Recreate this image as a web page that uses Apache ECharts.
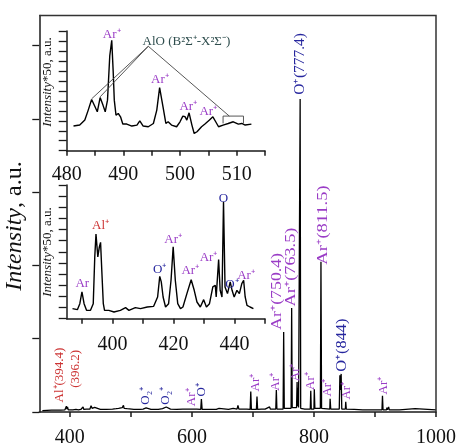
<!DOCTYPE html>
<html><head><meta charset="utf-8">
<script src="https://cdn.jsdelivr.net/npm/echarts@6/dist/echarts.min.js"></script>
<style>html,body{margin:0;padding:0;background:#fff}#c{width:459px;height:448px}</style>
</head><body><div id="c"></div>
<script>
// ---------- DATA ----------
const mainSpectrum = [
 [355,0.02],[370,0.025],[385,0.025],[392,0.03],[394.4,0.08],[395.3,0.04],[396.2,0.07],[397.5,0.03],
 [405,0.03],[410,0.035],[414,0.03],[416.3,0.055],[418,0.035],[421.7,0.068],[423,0.035],[427,0.04],
 [430,0.045],[433,0.04],[434.8,0.085],[436.5,0.05],[438,0.04],[440.7,0.063],[442,0.04],[450,0.035],
 [460,0.035],[470,0.04],[476,0.045],[480,0.05],[481.5,0.068],[483,0.05],[486,0.06],[487.9,0.09],
 [489,0.05],[492,0.04],[494,0.045],[495,0.065],[497,0.045],[505,0.035],[515,0.035],[520,0.04],
 [523,0.05],[525,0.055],[528,0.05],[533,0.035],[545,0.035],[552,0.045],[555,0.06],[558,0.068],
 [561,0.06],[565,0.04],[575,0.035],[585,0.04],[587.5,0.055],[590,0.04],[603,0.04],[606,0.05],
 [608,0.04],[614.5,0.035],[615.6,0.177],[616.8,0.035],[625,0.035],[640,0.035],[644.5,0.05],
 [646,0.035],[660,0.035],[667.7,0.05],[669,0.035],[674,0.04],[675.5,0.09],[677,0.04],[686,0.04],
 [688,0.05],[690,0.04],[695.5,0.035],[696.5,0.28],[697.5,0.035],[705.7,0.035],[706.7,0.21],
 [707.7,0.035],[714,0.04],[714.7,0.06],[715.5,0.04],[720,0.04],[727.3,0.07],[728.5,0.04],
 [737.5,0.04],[738.4,0.3],[739.3,0.04],[749.5,0.04],[750.4,1.09],[751.4,0.05],[762.6,0.05],
 [763.5,1.42],[764.4,0.06],[771.5,0.06],[772.4,0.41],[773.2,0.08],[774,0.33],[774.8,0.06],
 [776.5,0.06],[777.4,4.27],[778.3,0.05],[785,0.04],[794,0.04],[794.8,0.29],[795.6,0.04],
 [800,0.04],[800.6,0.31],[801.5,0.05],[810.5,0.05],[811.5,2.05],[812.5,0.05],[826,0.04],
 [826.5,0.18],[827.5,0.04],[841.5,0.04],[842.5,0.5],[843.5,0.3],[844.6,0.52],[845.6,0.04],
 [851.5,0.04],[852.1,0.14],[853,0.04],[866,0.035],[867,0.05],[868,0.035],[880,0.03],
 [911.5,0.03],[912.3,0.22],[913.2,0.03],[919,0.03],[919.5,0.06],[920.5,0.03],[922.4,0.07],
 [923.5,0.03],[925,0.05],[926,0.03],[940,0.03],[965.8,0.045],[967,0.03],[1000,0.03]
];
const inset1Spectrum = [
 [481.2,2.47],[482.3,2.57],[483.2,3.07],[483.8,4.07],[484.4,5.13],[485,4.4],[485.4,3.9],[485.9,5.33],
 [486.4,4.57],[486.8,3.9],[487.2,5.07],[487.6,9.5],[487.95,11.07],[488.2,8.0],[488.4,5.07],[488.7,3.57],
 [489.1,3.73],[489.5,3.4],[489.9,2.67],[490.6,2.67],[491.5,2.47],[492.4,2.57],[492.9,3.0],[493.5,2.47],
 [494.4,2.4],[495.3,2.73],[495.9,4.07],[496.4,6.33],[496.7,6.47],[497.0,4.4],[497.5,2.73],[497.9,2.9],
 [498.5,2.57],[499.4,2.4],[500,2.9],[500.5,3.47],[500.9,3.4],[501.2,3.07],[501.6,3.8],[502.1,2.57],
 [502.5,1.73],[503.0,1.9],[503.8,2.4],[504.4,2.67],[505.2,3.07],[505.8,3.4],[506.3,2.9],[506.8,2.4],
 [507.6,2.57],[508.5,2.73],[509.4,2.9],[510.3,2.67],[510.9,2.73],[511.5,2.57],[512.6,2.67]
];
const inset2Spectrum = [
 [386.9,0.9],[388.5,0.81],[389.3,1.35],[390.0,2.4],[390.7,1.35],[391.5,0.75],[392.8,0.75],[393.7,1.35],
 [394.2,5.55],[394.6,7.6],[395.2,5.55],[395.7,6.45],[396.1,6.85],[396.5,4.35],[397.0,1.35],[397.4,0.75],
 [398.8,0.75],[400.5,0.6],[402.6,0.75],[404.3,0.99],[405.4,0.75],[407.5,0.99],[409.2,0.9],[411.4,1.05],
 [413.5,1.11],[414.8,1.95],[415.5,3.8],[416.0,3.3],[416.6,1.95],[417.4,1.05],[418.4,1.35],[419.2,3.45],
 [419.9,6.45],[420.6,3.45],[421.4,1.35],[422.3,0.9],[423.1,1.05],[424.4,2.25],[425.8,3.5],[426.8,2.55],
 [427.7,1.5],[428.8,1.05],[429.9,1.71],[430.8,1.05],[431.8,1.35],[432.9,2.85],[433.7,3.0],[434.0,1.95],
 [434.8,5.3],[435.3,2.55],[435.9,1.95],[436.4,10.5],[436.9,2.85],[437.7,2.25],[438.6,3.3],[439.2,2.55],
 [439.9,1.95],[440.8,2.55],[441.6,2.25],[442.4,3.15],[443.0,3.45],[443.5,1.95],[444.1,1.2],[445.1,1.05],
 [446.2,0.9]
];
const mainXTicks = [400,500,600,700,800,900,1000];
const mainXLabels = [400,600,800,1000];
const mainYTicks = [0,1,2,3,4,5];
const inset1XTicks = [480,485,490,495,500,505,510,515];
const inset1XLabels = [480,490,500,510];
const inset2XTicks = [390,400,410,420,430,440,450];
const inset2XLabels = [400,420,440];
const insetYTicks = [0,1,2,3,4,5,6,7,8,9,10,11,12];
// AlO band guide lines and bracket (inset 1, data coords)
const aloGuideA = [[484.4,5.2],[494.4,10.47],[508.7,3.47]];
const aloGuideB = [[485.9,5.4],[494.4,10.47]];
const aloBracket = [[507.6,2.74],[507.6,3.47],[511.2,3.47],[511.2,2.74]];
// main annotations: [text, nm, intensity at text foot]
const mainNotes = [
 ['Al⁺(394.4)',383.7,0.13],['(396.2)',409.8,0.33],
 ['O₂⁺',523.9,0.10],['O₂⁺',557.6,0.10],['Ar⁺',600,0.08],['O⁺',615.6,0.21],
 ['Ar⁺',704.3,0.28],['Ar⁺',737.9,0.29],['Ar⁺(750.4)',739.5,1.12],
 ['Ar⁺(763.5)',763.5,1.44],['Ar⁺',769.5,0.42],['O⁺(777.4)',777.7,4.33],
 ['Ar⁺',794,0.30],['Ar⁺(811.5)',815.6,2.01],['Ar⁺',822,0.21],
 ['O⁺(844)',846.6,0.55],['Ar⁺',853.6,0.17],['Ar⁺',913.5,0.24]
];
// inset annotations: [text, nm, intensity at text centre]
const inset1Notes = [
 ['Ar⁺',487.94,11.67],['Ar⁺',496.46,7.17],['Ar⁺',501.46,4.47],['Ar⁺',504.99,3.97]
];
const inset1Title = ['AlO (B²Σ⁺-X²Σ⁻)',493.4,10.97];
const inset2Notes = [
 ['Ar',390.1,3.15],['Al⁺',396.1,8.4],['O⁺',415.5,4.44],['Ar⁺',419.9,7.14],
 ['Ar⁺',425.5,4.35],['Ar⁺',431.5,5.5],['O',436.4,10.8],['O⁺',439.2,3.09],
 ['Ar⁺',443.8,3.84]
];

// ---------- STYLE ----------
const AR = '#9a3cc6', OX = '#26269e', AL = '#cc3333', ALO = '#2e4d4d';
// [colour, font size, stretch along the text]
const mainNoteStyle = [
 [AL,13,1],[AL,13,1],[OX,13,1],[OX,13,1],[AR,13,1],[OX,13,1],[AR,13,1],[AR,13,1],[AR,14,1.27],
 [AR,14,1.3],[AR,13,1],[OX,14,1.1],[AR,13,1],[AR,14,1.32],[AR,13,1],[OX,14,1.17],[AR,13,1],[AR,13,1]
];
const inset1NoteColor = [AR,AR,AR,AR];
const inset2NoteColor = [AR,AL,OX,AR,AR,AR,OX,OX,AR];
const FONT = "'Liberation Serif','Times New Roman',serif";
const AX = '#1a1a1a';

// ---------- CHART ----------
const chart = echarts.init(document.getElementById('c'), null, {renderer:'canvas'});

function xAx(grid, min, max, ticks, labels, margin) {
  return {type:'value', gridIndex:grid, min:min, max:max,
    axisLine:{show:true, onZero:false, lineStyle:{color:AX, width:1.5}},
    axisTick:{show:true, inside:false, length:5, customValues:ticks, lineStyle:{color:AX, width:1.5}},
    axisLabel:{show:true, customValues:labels, margin:margin, color:'#111', fontSize:20, fontFamily:FONT,
      formatter:function(v){return String(v);}},
    splitLine:{show:false}};
}
function yAx(grid, min, max, ticks, len) {
  return {type:'value', gridIndex:grid, min:min, max:max,
    axisLine:{show:true, onZero:false, lineStyle:{color:AX, width:1.5}},
    axisTick:{show:true, inside:false, length:len, customValues:ticks, lineStyle:{color:AX, width:1.3}},
    axisLabel:{show:false}, splitLine:{show:false}};
}
function lineS(xi, data, w, color) {
  return {type:'line', xAxisIndex:xi, yAxisIndex:xi, data:data, showSymbol:false, symbol:'none',
    lineStyle:{color:color||'#000', width:w}, animation:false, silent:true, z:3};
}

chart.setOption({
  animation:false,
  grid:[
    {left:39.3, right:22, top:15.5, bottom:36},
    {left:66.7, width:198.3, top:31, height:119.7},
    {left:66.7, width:198.3, top:185, height:133.7}
  ],
  xAxis:[
    xAx(0,350,1000,mainXTicks,mainXLabels,16),
    xAx(1,480,515,inset1XTicks,inset1XLabels,14),
    xAx(2,385,450,inset2XTicks,inset2XLabels,16)
  ],
  yAxis:[
    yAx(0,0,5.41,mainYTicks,7),
    yAx(1,0,12,insetYTicks,8),
    yAx(2,0,12,insetYTicks,8)
  ],
  series:[
    lineS(0, mainSpectrum, 1.3),
    lineS(1, inset1Spectrum, 1.4),
    lineS(2, inset2Spectrum, 1.4),
    lineS(1, aloGuideA, 0.9, '#444'),
    lineS(1, aloGuideB, 0.9, '#444'),
    lineS(1, aloBracket, 0.9, '#444')
  ]
});

const g = [];
function txt(opts) { g.push(Object.assign({type:'text', z:100, silent:true}, opts)); }
// frame of the main plot (top and right edges) from the main axes' extent
(function(){
  const a = chart.convertToPixel({gridIndex:0}, [350, 0]);
  const b = chart.convertToPixel({gridIndex:0}, [1000, 5.41]);
  g.push({type:'polyline', z:50, silent:true,
    shape:{points:[[a[0], b[1]], [b[0], b[1]], [b[0], a[1]]]},
    style:{stroke:'#333', lineWidth:1.5, fill:null}});
})();
mainNotes.forEach((n, i) => {
  const p = chart.convertToPixel({gridIndex:0}, [n[1], n[2]]);
  const s = mainNoteStyle[i];
  txt({x:p[0], y:p[1], rotation:Math.PI/2, scaleX:s[2], scaleY:1,
    style:{text:n[0], fill:s[0], font:s[1]+'px '+FONT, align:'left', verticalAlign:'middle'}});
});
[[1,inset1Notes,inset1NoteColor],[2,inset2Notes,inset2NoteColor]].forEach(([gi, notes, cols]) => notes.forEach((n, i) => {
  const p = chart.convertToPixel({gridIndex:gi}, [n[1], n[2]]);
  txt({x:p[0], y:p[1], style:{text:n[0], fill:cols[i], font:'13px '+FONT, align:'center', verticalAlign:'middle'}});
}));
(function(){
  const n = inset1Title;
  const p = chart.convertToPixel({gridIndex:1}, [n[1], n[2]]);
  txt({x:p[0], y:p[1], style:{text:n[0], fill:ALO, font:'13px '+FONT, align:'left', verticalAlign:'middle'}});
})();
function yTitle(x, y, size, text) {
  txt({x:x, y:y, rotation:Math.PI/2, style:{text:text, fill:'#111', fontSize:size, fontFamily:FONT,
    align:'center', verticalAlign:'middle',
    rich:{i:{fontStyle:'italic', fontSize:size, fontFamily:FONT, fill:'#111'},
          n:{fontSize:size, fontFamily:FONT, fill:'#111'}}}});
}
yTitle(15, 226, 24, '{i|Intensity}{n|, a.u.}');
yTitle(48, 82, 13, '{i|Intensity}{n|*50, a.u.}');
yTitle(48, 252, 13, '{i|Intensity}{n|*50, a.u.}');
chart.setOption({graphic:g});
</script></body></html>
